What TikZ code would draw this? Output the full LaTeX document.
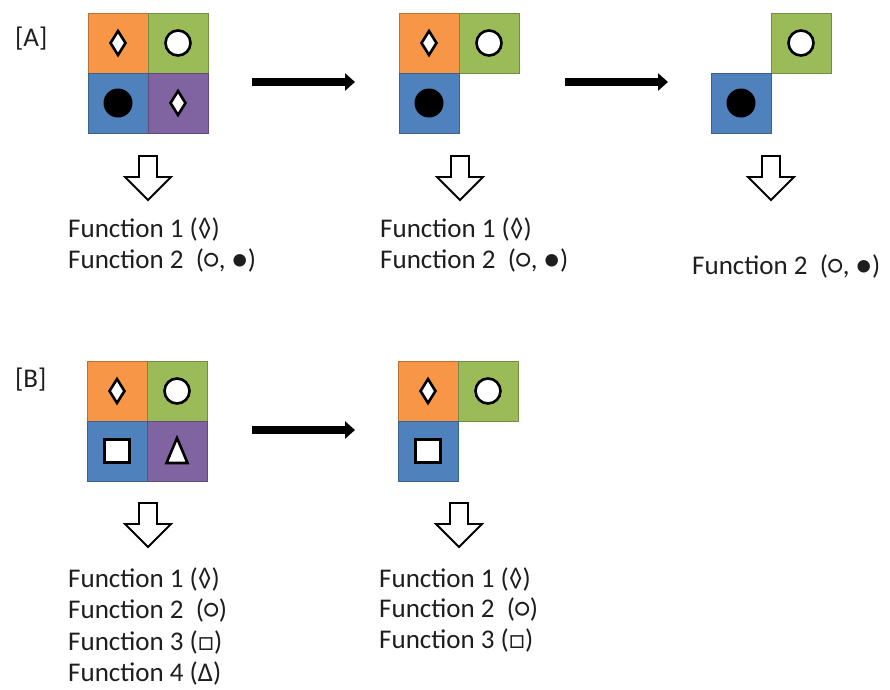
\documentclass[tikz,border=0pt]{standalone}
\usepackage{fontspec}
\setmainfont{Carlito}
\usetikzlibrary{shapes.geometric,arrows.meta,calc}
\definecolor{corange}{HTML}{F79646}
\definecolor{cgreen}{HTML}{9BBB59}
\definecolor{cblue}{HTML}{4F81BD}
\definecolor{cpurple}{HTML}{8064A2}
\definecolor{txt}{HTML}{1E1E1E}
\tikzset{
  cell/.style={rectangle, minimum size=60pt, inner sep=0pt, draw=#1!75!black, fill=#1, line width=0.8pt},
  loz/.style={diamond, minimum width=16pt, minimum height=25pt, inner sep=0pt, draw=black, fill=white, line width=2.6pt},
  ring/.style={circle, minimum size=25pt, inner sep=0pt, draw=black, fill=white, line width=2.6pt},
  dot/.style={circle, minimum size=29pt, inner sep=0pt, fill=black},
  sq/.style={rectangle, minimum width=25pt, minimum height=23pt, inner sep=0pt, draw=black, fill=white, line width=2.6pt},
  tri/.style={draw=black, fill=white, line width=2.6pt, line join=miter},
  ftext/.style={anchor=base west, inner sep=0pt, text=txt, font=\fontsize{27}{31}\selectfont},
  bigarrow/.style={line width=8.5pt, -{Triangle[length=10pt,width=17pt]}},
  hollow/.style={draw=black, fill=white, line width=1.8pt, line join=miter}
}
\newcommand{\hollowdown}[1]{%
  \draw[hollow] (#1) ++(-9,0) -- ++(18,0) -- ++(0,21) -- ++(14,0) -- ++(-23,23) -- ++(-23,-23) -- ++(14,0) -- cycle;}
\begin{document}
\begin{tikzpicture}[x=1pt,y=-1pt]
\useasboundingbox (0,0) rectangle (890,689);
\fill[white] (0,0) rectangle (890,689);

% labels
\node[ftext] (labA) at (15,46) {[A]};
\node[ftext] (labB) at (15,387) {[B]};

% ---- A1 grid
\node[cell=corange] (a1o) at (118,43) {};
\node[cell=cgreen]  (a1g) at (178,43) {};
\node[cell=cblue]   (a1b) at (118,103) {};
\node[cell=cpurple] (a1p) at (178,103) {};
\node[loz]  (a1os) at (a1o) {};
\node[ring] (a1gs) at (a1g) {};
\node[dot]  (a1bs) at (a1b) {};
\node[loz]  (a1ps) at (a1p) {};

% ---- A2 grid
\node[cell=corange] (a2o) at (429,43) {};
\node[cell=cgreen]  (a2g) at (489,43) {};
\node[cell=cblue]   (a2b) at (429,103) {};
\node[loz]  (a2os) at (a2o) {};
\node[ring] (a2gs) at (a2g) {};
\node[dot]  (a2bs) at (a2b) {};

% ---- A3 grid
\node[cell=cgreen]  (a3g) at (801,43) {};
\node[cell=cblue]   (a3b) at (741,103) {};
\node[ring] (a3gs) at (a3g) {};
\node[dot]  (a3bs) at (a3b) {};

% ---- B1 grid
\node[cell=corange] (b1o) at (117,391) {};
\node[cell=cgreen]  (b1g) at (177,391) {};
\node[cell=cblue]   (b1b) at (117,451) {};
\node[cell=cpurple] (b1p) at (177,451) {};
\node[loz]  (b1os) at (b1o) {};
\node[ring] (b1gs) at (b1g) {};
\node[sq]   (b1bs) at (b1b) {};
\draw[tri] ($(b1p)+(0,-13)$) -- ($(b1p)+(10.5,12)$) -- ($(b1p)+(-10.5,12)$) -- cycle;

% ---- B2 grid
\node[cell=corange] (b2o) at (428,391) {};
\node[cell=cgreen]  (b2g) at (488,391) {};
\node[cell=cblue]   (b2b) at (428,451) {};
\node[loz]  (b2os) at (b2o) {};
\node[ring] (b2gs) at (b2g) {};
\node[sq]   (b2bs) at (b2b) {};

% ---- solid arrows
\coordinate (s1a) at (252,82);  \coordinate (s1b) at (355,82);
\coordinate (s2a) at (565,82);  \coordinate (s2b) at (668,82);
\coordinate (s3a) at (252,430); \coordinate (s3b) at (355,430);
\draw[bigarrow] (s1a) -- (s1b);
\draw[bigarrow] (s2a) -- (s2b);
\draw[bigarrow] (s3a) -- (s3b);

% ---- hollow down arrows
\coordinate (h1) at (148,156);
\coordinate (h2) at (460,156);
\coordinate (h3) at (771,156);
\coordinate (h4) at (148,503);
\coordinate (h5) at (459,503);
\hollowdown{h1}\hollowdown{h2}\hollowdown{h3}\hollowdown{h4}\hollowdown{h5}

% ---- texts
\node[ftext] (t11) at (68,237) {Function 1 (◊)};
\node[ftext] (t12) at (68,268) {Function 2~ (○, ●)};
\node[ftext] (t21) at (380,237) {Function 1 (◊)};
\node[ftext] (t22) at (380,268) {Function 2~ (○, ●)};
\node[ftext] (t31) at (692,274) {Function 2~ (○, ●)};
\node[ftext] (u11) at (68,587) {Function 1 (◊)};
\node[ftext] (u12) at (68,618) {Function 2~ (○)};
\node[ftext] (u13) at (68,650) {Function 3 (□)};
\node[ftext] (u14) at (68,681) {Function 4 (Δ)};
\node[ftext] (u21) at (379,587) {Function 1 (◊)};
\node[ftext] (u22) at (379,617) {Function 2~ (○)};
\node[ftext] (u23) at (379,648) {Function 3 (□)};
\end{tikzpicture}
\end{document}
